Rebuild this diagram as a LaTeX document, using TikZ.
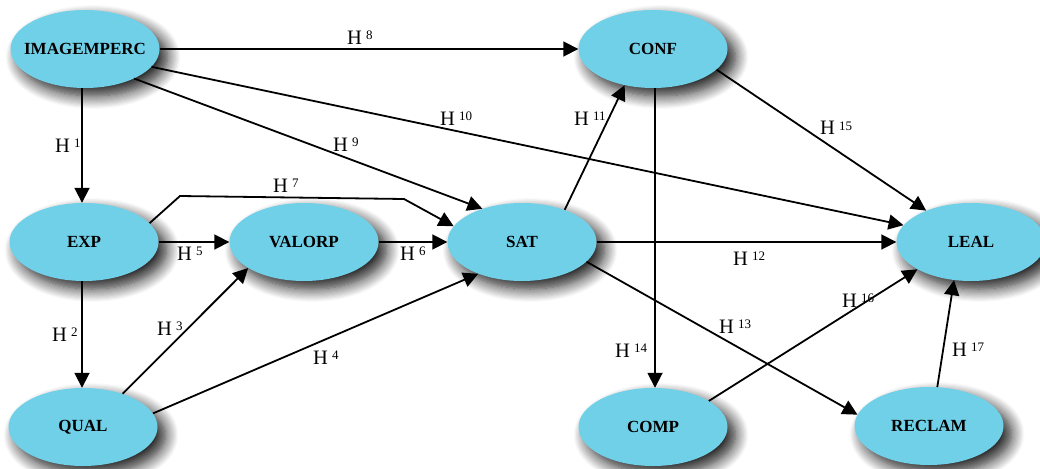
\documentclass[tikz,border=0pt]{standalone}
\usepackage{fontspec}
\setmainfont{Liberation Serif}
\usetikzlibrary{shapes.geometric,arrows.meta,shadows.blur}
\definecolor{construct}{HTML}{70D0E8}
% hypothesis label: H with a small raised number
\newcommand\hyplabel[1]{H\hspace{4pt}\raisebox{5pt}{\fontsize{13}{13}\selectfont #1}}
\begin{document}
\begin{tikzpicture}[x=1pt,y=-1pt,
  latent/.style={ellipse, fill=construct, draw=none,
    minimum width=149pt, minimum height=78pt, inner sep=0pt,
    font=\fontsize{17}{17}\selectfont\bfseries,
    blur shadow={shadow xshift=8pt, shadow yshift=-8pt,
      shadow blur radius=13pt, shadow blur steps=12, shadow opacity=90}},
  link/.style={line width=1.8pt, -{Triangle[length=15pt,width=15pt]}},
  hyp/.style={anchor=base west, inner sep=0pt, font=\fontsize{20.5}{20.5}\selectfont}
]
\useasboundingbox (0,0) rectangle (1040,468);

% constructs
\node[latent] (img)    at (85,49)   {\makebox[0pt]{IMAGEMPERC}};
\node[latent] (conf)   at (653,49)  {\makebox[0pt]{CONF}};
\node[latent] (exp)    at (84,242)  {\makebox[0pt]{EXP}};
\node[latent] (valorp) at (304,242) {\makebox[0pt]{VALORP}};
\node[latent] (sat)    at (522,242) {\makebox[0pt]{SAT}};
\node[latent] (leal)   at (971,242) {\makebox[0pt]{LEAL}};
\node[latent] (qual)   at (83,427)  {\makebox[0pt]{QUAL}};
\node[latent] (comp)   at (653,427) {\makebox[0pt]{COMP}};
\node[latent] (reclam) at (929,426) {\makebox[0pt]{RECLAM}};

% structural paths
\draw[link] (img.east) -- (conf.west);
\draw[link] (img.-15.5) -- (leal.166.4);
\draw[link] (img.-31.1) -- (sat.140.6);
\draw[link] ([xshift=-3pt]img.south) -- ([xshift=-2pt]exp.north);
\draw[link, line join=miter] (exp.16.5) -- (180,196) -- (404,199) -- (sat.167);
\draw[link] (exp.east) -- (valorp.west);
\draw[link] (valorp.east) -- (sat.west);
\draw[link] ([xshift=-2pt]exp.south) -- ([xshift=-1pt]qual.north);
\draw[link] (qual.40.4) -- (valorp.205.4);
\draw[link] (qual.11) -- (sat.216.9);
\draw[link] (sat.37.1) -- (conf.232.1);
\draw[link] (sat.east) -- (leal.west);
\draw[link] (sat.-17.9) -- (reclam.171.3);
\draw[link] ([xshift=2pt]conf.south) -- ([xshift=2pt]comp.north);
\draw[link] (conf.-18.2) -- (leal.145.1);
\draw[link] (comp.25.3) -- (leal.207.8);
\draw[link] (reclam.78.4) -- (leal.246.2);

% hypothesis labels
\node[hyp] (h1)  at (55,152)  {\hyplabel{1}};
\node[hyp] (h2)  at (52,341)  {\hyplabel{2}};
\node[hyp] (h3)  at (157,335) {\hyplabel{3}};
\node[hyp] (h4)  at (313,364) {\hyplabel{4}};
\node[hyp] (h5)  at (177,260) {\hyplabel{5}};
\node[hyp] (h6)  at (400,260) {\hyplabel{6}};
\node[hyp] (h7)  at (273,192) {\hyplabel{7}};
\node[hyp] (h8)  at (347,45)  {\hyplabel{8}};
\node[hyp] (h9)  at (333,151) {\hyplabel{9}};
\node[hyp] (h10) at (440,125) {\hyplabel{10}};
\node[hyp] (h11) at (574,125) {\hyplabel{11}};
\node[hyp] (h12) at (733,265) {\hyplabel{12}};
\node[hyp] (h13) at (719,333) {\hyplabel{13}};
\node[hyp] (h14) at (615,357) {\hyplabel{14}};
\node[hyp] (h15) at (820,135) {\hyplabel{15}};
\node[hyp] (h16) at (842,307) {\hyplabel{16}};
\node[hyp] (h17) at (952,356) {\hyplabel{17}};
\end{tikzpicture}
\end{document}
